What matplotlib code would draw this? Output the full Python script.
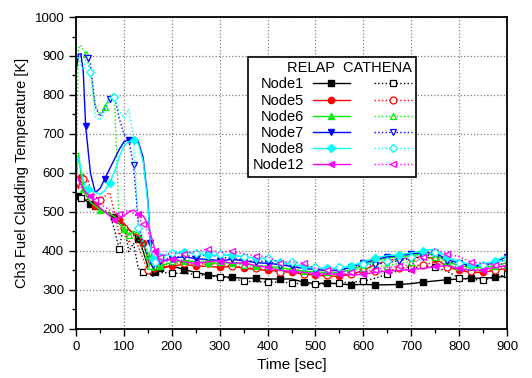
import matplotlib
matplotlib.use("Agg")
import matplotlib.pyplot as plt
from matplotlib.ticker import MultipleLocator

plt.rcParams['font.family'] = ['Liberation Sans', 'DejaVu Sans']

## time grid [sec]
time = [0, 5, 10, 15, 20, 25, 30, 40, 50, 60, 70, 80, 90, 100, 110, 120, 130, 140, 150, 155, 160, 165,
        175, 200, 225, 250, 275, 300, 325, 350, 375, 400, 425, 450, 475, 500, 525, 550, 575, 600,
        625, 650, 675, 700, 725, 750, 775, 800, 825, 850, 875, 900]

## RELAP
relap_node1 = [545, 540, 538, 535, 530, 525, 520, 512, 505, 500, 495, 488, 475, 465, 455, 445, 430, 400, 360, 340, 335, 345,
               355, 362, 352, 345, 338, 335, 332, 330, 330, 328, 328, 328, 320, 316, 318, 315, 313, 314,
               313, 313, 314, 316, 320, 323, 326, 328, 330, 330, 332, 335]
relap_node5 = [575, 560, 590, 560, 545, 535, 525, 515, 505, 500, 495, 490, 480, 470, 455, 445, 440, 420, 380, 360, 350, 345,
               355, 362, 365, 362, 360, 358, 360, 356, 352, 350, 348, 345, 340, 338, 335, 335, 340, 350,
               365, 375, 380, 382, 385, 380, 360, 350, 345, 345, 350, 355]
relap_node6 = [580, 650, 600, 560, 545, 535, 525, 515, 505, 500, 495, 488, 470, 455, 440, 450, 445, 425, 390, 365, 350, 350,
               362, 370, 375, 372, 370, 368, 370, 368, 362, 360, 358, 352, 348, 346, 345, 345, 352, 362,
               375, 382, 385, 388, 392, 390, 372, 362, 358, 358, 362, 370]
relap_node7 = [860, 905, 905, 860, 720, 660, 600, 550, 560, 585, 610, 635, 660, 680, 685, 688, 680, 640, 530, 420, 375, 360,
               372, 380, 385, 380, 378, 375, 378, 375, 370, 368, 365, 360, 355, 352, 350, 350, 358, 368,
               378, 385, 388, 392, 396, 395, 378, 368, 362, 362, 372, 385]
relap_node8 = [600, 640, 610, 580, 565, 560, 555, 550, 545, 555, 575, 603, 640, 670, 680, 685, 675, 630, 520, 420, 380, 370,
               385, 392, 398, 392, 390, 388, 390, 385, 382, 380, 372, 365, 360, 356, 355, 355, 362, 372,
               382, 388, 390, 395, 400, 405, 385, 372, 365, 365, 375, 388]
relap_node12 = [595, 585, 570, 560, 550, 545, 540, 525, 510, 500, 490, 480, 485, 490, 500, 505, 495, 490, 470, 445, 425, 400,
                370, 380, 372, 368, 372, 375, 368, 370, 362, 358, 350, 348, 345, 342, 340, 342, 338, 340,
                345, 348, 350, 352, 355, 360, 362, 355, 350, 352, 358, 362]

## CATHENA
cathena_node1 = [540, 538, 536, 535, 535, 530, 522, 515, 508, 503, 498, 455, 405, 470, 398, 420, 355, 345, 346, 342, 340, 345,
                 345, 343, 342, 340, 336, 333, 330, 322, 321, 320, 320, 318, 315, 314, 315, 318, 320, 322,
                 330, 340, 350, 355, 362, 358, 348, 330, 326, 326, 332, 340]
cathena_node5 = [585, 580, 575, 585, 590, 580, 560, 540, 530, 540, 550, 500, 440, 460, 420, 440, 410, 380, 350, 345, 345, 350,
                 360, 368, 370, 365, 368, 365, 362, 358, 355, 352, 345, 348, 342, 340, 338, 340, 342, 345,
                 348, 350, 355, 360, 365, 370, 358, 352, 348, 350, 352, 360]
cathena_node6 = [600, 920, 928, 915, 905, 890, 860, 775, 750, 770, 795, 805, 470, 465, 440, 450, 430, 400, 370, 360, 355, 358,
                 368, 375, 378, 372, 375, 372, 368, 365, 360, 362, 352, 355, 348, 345, 342, 345, 350, 355,
                 358, 362, 368, 372, 378, 385, 365, 358, 355, 356, 360, 365]
cathena_node7 = [870, 900, 905, 905, 900, 895, 880, 770, 745, 765, 790, 800, 740, 700, 685, 620, 470, 420, 385, 370, 365, 365,
                 375, 382, 388, 385, 390, 385, 380, 378, 372, 375, 362, 365, 358, 352, 350, 352, 358, 362,
                 365, 370, 375, 380, 385, 392, 375, 365, 360, 362, 368, 378]
cathena_node8 = [885, 900, 880, 865, 890, 880, 860, 745, 735, 760, 790, 795, 760, 740, 765, 690, 460, 420, 390, 375, 370, 372,
                 388, 395, 400, 395, 398, 392, 388, 385, 380, 382, 370, 372, 362, 358, 355, 358, 362, 366,
                 370, 375, 380, 385, 390, 398, 382, 370, 365, 365, 370, 380]
cathena_node12 = [590, 580, 565, 555, 548, 545, 540, 530, 520, 512, 505, 498, 495, 500, 505, 495, 485, 470, 450, 430, 410, 390,
                  385, 395, 392, 398, 405, 395, 400, 392, 388, 385, 370, 372, 368, 355, 350, 348, 345, 348,
                  352, 358, 360, 365, 385, 405, 392, 385, 372, 368, 365, 368]

labels = ["Node1", "Node5", "Node6", "Node7", "Node8", "Node12"]
colors = ["black", "red", "#00ee00", "blue", "cyan", "magenta"]
markers = ["s", "o", "^", "v", "D", "<"]
relap = [relap_node1, relap_node5, relap_node6, relap_node7, relap_node8, relap_node12]
cathena = [cathena_node1, cathena_node5, cathena_node6, cathena_node7, cathena_node8, cathena_node12]

n_early = 22  # points before t=175


def mark_idx(off):
    # sparse markers in the busy transient, denser in the long tail
    return list(range(1 + off, n_early, 5)) + list(range(n_early + off % 2, len(time), 2))


fig = plt.figure(figsize=(5.32, 3.78), dpi=100)
ax = fig.add_axes([0.143, 0.130, 0.810, 0.825])

h_relap = []
h_cath = []
for i in range(len(labels)):
    c = colors[i]
    ms = 4.5 if markers[i] != "D" else 4
    l1, = ax.plot(time, relap[i], color=c, lw=1.0, marker=markers[i], markersize=ms,
                  markerfacecolor=c, markeredgecolor=c, markevery=mark_idx(i))
    l2, = ax.plot(time, cathena[i], color=c, lw=1.0, linestyle=":", marker=markers[i], markersize=ms + 0.5,
                  markerfacecolor="white", markeredgecolor=c, markeredgewidth=0.9,
                  markevery=mark_idx(i + 1))
    h_relap.append(l1)
    h_cath.append(l2)

ax.set_xlim(0, 900)
ax.set_ylim(200, 1000)
ax.xaxis.set_major_locator(MultipleLocator(100))
ax.xaxis.set_minor_locator(MultipleLocator(50))
ax.yaxis.set_major_locator(MultipleLocator(100))
ax.yaxis.set_minor_locator(MultipleLocator(50))
ax.tick_params(which="both", direction="out", top=False, right=False, labelsize=9.5, width=1.0)
ax.tick_params(which="major", length=5)
ax.tick_params(which="minor", length=3)
for s in ax.spines.values():
    s.set_linewidth(1.3)
ax.grid(True, which="major", color="gray", linestyle=":", linewidth=0.9)
ax.set_axisbelow(True)

ax.set_xlabel("Time [sec]", fontsize=11)
ax.set_ylabel("Ch3 Fuel Cladding Temperature [K]", fontsize=10.5)

## legend: label | RELAP | CATHENA
leg = ax.legend(h_relap + h_cath, labels + [""] * len(labels), ncol=2, markerfirst=False,
                loc="upper left", bbox_to_anchor=(0.399, 0.872), borderaxespad=0, fontsize=10.5,
                title="RELAP  CATHENA", title_fontsize=10.5, alignment="right",
                handlelength=2.6, handletextpad=0.6, columnspacing=1.0,
                labelspacing=0.15, borderpad=0.3, fancybox=False, framealpha=1,
                edgecolor="black")
leg.get_frame().set_linewidth(1.2)

fig.savefig("out.png", dpi=100)
